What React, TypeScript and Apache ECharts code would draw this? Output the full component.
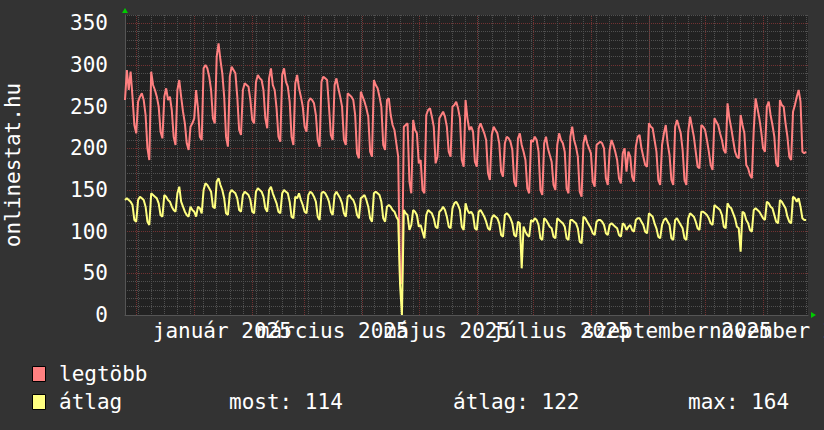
import { useEffect, useRef } from 'react';
import * as echarts from 'echarts';

// Start of the plotted period: Monday 25 Nov 2024, one value per day
const START_YEAR = 2024;
const START_MONTH = 10;
const START_DAY = 25;
const SPAN_DAYS = 365;

// "legtöbb" (daily maximum), one row per week (Mon..Sun)
const legtobb = [
  258, 294, 270, 292, 262, 228, 218,
  256, 262, 266, 258, 240, 200, 186,
  292, 276, 270, 262, 250, 220, 212,
  262, 272, 258, 262, 246, 214, 204,
  270, 282, 262, 244, 230, 206, 198,
  226, 230, 236, 270, 248, 214, 210,
  296, 300, 296, 286, 270, 236, 230,
  310, 326, 306, 290, 262, 214, 202,
  286, 298, 294, 290, 262, 222, 216,
  270, 278, 276, 274, 258, 234, 230,
  280, 288, 284, 282, 270, 236, 224,
  284, 296, 276, 270, 248, 214, 208,
  288, 296, 280, 274, 256, 214, 204,
  278, 288, 272, 262, 250, 226, 220,
  256, 260, 258, 254, 240, 210, 202,
  280, 286, 284, 282, 250, 216, 210,
  276, 284, 272, 262, 250, 210, 204,
  266, 264, 262, 258, 240, 194, 188,
  268, 262, 256, 248, 238, 196, 190,
  282, 276, 272, 262, 250, 204, 198,
  258, 260, 240, 228, 222, 206, 190,
  38, 38, 226, 228, 230, 160, 146,
  234, 222, 218, 182, 186, 150, 146,
  240, 246, 248, 238, 226, 182, 190,
  236, 240, 244, 238, 226, 196, 190,
  250, 252, 256, 248, 236, 186, 178,
  258, 236, 222, 226, 220, 184, 178,
  224, 230, 224, 218, 210, 170, 162,
  216, 226, 222, 218, 206, 172, 166,
  206, 214, 212, 208, 198, 160, 154,
  212, 218, 204, 196, 186, 152, 146,
  210, 208, 214, 210, 196, 150, 144,
  206, 214, 200, 192, 184, 156, 150,
  204, 218, 210, 206, 196, 152, 146,
  214, 226, 210, 202, 190, 148, 142,
  206, 216, 206, 200, 194, 160, 154,
  204, 206, 208, 206, 200, 164, 156,
  198, 210, 204, 196, 186, 164, 158,
  194, 200, 172, 196, 190, 166, 160,
  202, 214, 216, 200, 190, 180, 178,
  230, 226, 224, 210, 196, 162, 156,
  204, 218, 228, 206, 192, 162, 156,
  226, 234, 226, 218, 198, 162, 156,
  220, 238, 226, 214, 196, 178, 176,
  228, 226, 222, 210, 196, 180, 174,
  236, 232, 228, 218, 210, 198, 194,
  254, 236, 224, 210, 196, 190, 188,
  240, 228, 218, 180, 176, 168, 164,
  222, 260, 248, 236, 220, 200, 196,
  250, 256, 240, 228, 214, 182, 178,
  258, 252, 250, 230, 214, 190, 186,
  244, 252, 262, 270, 256, 196, 194,
  196,
];

// "átlag" (daily average), one row per week (Mon..Sun)
const atlag = [
  138, 140, 138, 136, 132, 114, 112,
  138, 142, 140, 138, 130, 112, 108,
  146, 144, 142, 140, 134, 120, 118,
  144, 142, 138, 136, 130, 126, 124,
  146, 154, 136, 130, 124, 120, 118,
  130, 126, 124, 118, 130, 128, 122,
  150, 158, 156, 152, 148, 130, 128,
  160, 164, 156, 150, 140, 122, 120,
  146, 150, 148, 146, 140, 126, 124,
  144, 148, 146, 144, 138, 124, 122,
  148, 152, 150, 148, 142, 128, 124,
  150, 154, 146, 140, 134, 124, 122,
  146, 150, 148, 146, 136, 118, 116,
  142, 140, 146, 138, 132, 124, 122,
  144, 148, 146, 142, 136, 118, 114,
  146, 148, 146, 142, 136, 124, 120,
  144, 148, 144, 140, 134, 122, 118,
  142, 144, 140, 138, 132, 120, 116,
  140, 142, 144, 138, 130, 116, 112,
  146, 148, 146, 144, 136, 116, 112,
  130, 132, 130, 126, 124, 118, 114,
  36, 0, 126, 122, 120, 102, 108,
  126, 124, 120, 106, 108, 100, 92,
  120, 126, 124, 122, 116, 106, 104,
  124, 126, 130, 126, 118, 106, 104,
  128, 134, 136, 132, 126, 106, 102,
  134, 126, 122, 124, 120, 104, 102,
  124, 126, 122, 118, 112, 104, 102,
  116, 120, 118, 116, 110, 96, 94,
  120, 122, 120, 116, 110, 96, 94,
  112, 110, 56, 106, 100, 96, 94,
  114, 112, 116, 114, 108, 92, 90,
  116, 114, 110, 106, 104, 94, 92,
  116, 114, 112, 110, 106, 92, 90,
  114, 114, 112, 110, 104, 88, 86,
  118, 116, 112, 108, 104, 98, 96,
  112, 114, 114, 112, 108, 98, 96,
  108, 110, 108, 106, 104, 96, 94,
  110, 108, 102, 106, 108, 102, 100,
  114, 116, 116, 112, 108, 100, 98,
  122, 120, 118, 110, 104, 94, 92,
  108, 114, 116, 112, 108, 92, 90,
  114, 116, 112, 108, 104, 92, 90,
  116, 122, 120, 118, 112, 104, 102,
  124, 124, 122, 120, 116, 110, 108,
  132, 130, 128, 126, 120, 106, 104,
  134, 130, 128, 122, 116, 106, 104,
  76, 124, 122, 114, 110, 102, 100,
  126, 128, 126, 124, 120, 116, 114,
  136, 134, 130, 128, 120, 112, 110,
  138, 136, 132, 128, 118, 112, 110,
  142, 140, 136, 140, 130, 116, 114,
  114,
];

// Month starts drawn as major grid lines: [year, monthIndex]
const gridMonths = [
  [2024, 11], [2025, 0], [2025, 1], [2025, 2], [2025, 3], [2025, 4],
  [2025, 5], [2025, 6], [2025, 7], [2025, 8], [2025, 9], [2025, 10],
];

// Axis labels (centred half a month after the month start)
const xLabelMonths = [[2025, 0], [2025, 2], [2025, 4], [2025, 6], [2025, 8], [2025, 10]];
const xLabelTexts = ['január 2025', 'március 2025', 'május 2025', 'július 2025', 'szeptember 2025', 'november 2025'];
const yLabelTicks = [0, 50, 100, 150, 200, 250, 300, 350];

const seriesNames = ['legtöbb', 'átlag'];
const seriesColors = ['#ff8080', '#ffff80'];
const atlagStats = ['most: 114', 'átlag: 122', 'max: 164'];
const yTitle = 'onlinestat.hu';

const FONT = "'DejaVu Sans Mono', monospace";
const FS = 21;
const MAJOR = '#723232';
const MINOR = '#505050';

export default function App() {
  const ref = useRef<HTMLDivElement>(null);

  useEffect(() => {
    if (!ref.current) return;
    const chart = echarts.init(ref.current, undefined, { renderer: 'svg' });
    const start = Date.UTC(START_YEAR, START_MONTH, START_DAY);
    const dayMs = 86400000;
    const dayOf = (y: number, m: number, d: number) => (Date.UTC(y, m, d) - start) / dayMs;

    const monthLines = gridMonths.map(([y, m]) => dayOf(y, m, 1));
    const labelPos = xLabelMonths.map(([y, m]) => dayOf(y, m, 1) + 15);
    const labelMap: Record<string, string> = {};
    labelPos.forEach((p, i) => { labelMap[String(p)] = xLabelTexts[i]; });
    const groupA = labelPos.filter((_, i) => i % 2 === 0);
    const groupB = labelPos.filter((_, i) => i % 2 === 1);

    const labelStyle = {
      color: '#ffffff',
      fontFamily: FONT,
      fontSize: FS,
      margin: 5,
      formatter: (v: number) => labelMap[String(v)] ?? '',
    };

    const legendY = [374, 402];

    chart.setOption({
      animation: false,
      backgroundColor: '#333333',
      grid: {
        left: 125, top: 15, width: 683, height: 300,
        containLabel: false, outerBoundsMode: 'none',
        show: true, backgroundColor: '#222222', borderWidth: 0,
      },
      xAxis: [
        {
          type: 'value', min: 0, max: SPAN_DAYS, interval: 7, position: 'bottom',
          axisLine: { show: true, lineStyle: { color: '#555555', width: 1 } },
          axisTick: { show: false },
          axisLabel: { show: false },
          splitLine: { show: true, showMaxLine: false, lineStyle: { color: MINOR, type: [1, 1], width: 1 } },
        },
        {
          type: 'value', min: 0, max: SPAN_DAYS, position: 'bottom',
          axisLine: { show: false },
          axisTick: {
            show: true, inside: true, length: 300, customValues: monthLines,
            lineStyle: { color: MAJOR, type: [1, 1], width: 1 },
          },
          axisLabel: { ...labelStyle, customValues: groupA },
          splitLine: { show: false },
        },
        {
          type: 'value', min: 0, max: SPAN_DAYS, position: 'bottom',
          axisLine: { show: false },
          axisTick: { show: false },
          axisLabel: { ...labelStyle, customValues: groupB },
          splitLine: { show: false },
        },
      ],
      yAxis: [
        {
          type: 'value', min: 0, max: 360, interval: 10, position: 'left',
          axisLine: { show: true, lineStyle: { color: '#555555', width: 1 } },
          axisTick: { show: false },
          axisLabel: { show: false },
          splitLine: { show: true, lineStyle: { color: MINOR, type: [1, 1], width: 1 } },
        },
        {
          type: 'value', min: 0, max: 360, interval: 50, position: 'left',
          axisLine: { show: false },
          axisTick: { show: false },
          axisLabel: {
            color: '#ffffff', fontFamily: FONT, fontSize: FS, margin: 17,
            formatter: (v: number) => (yLabelTicks.includes(v) ? String(v) : ''),
          },
          splitLine: { show: true, showMaxLine: false, lineStyle: { color: MAJOR, type: [1, 1], width: 1 } },
          name: yTitle,
          nameLocation: 'middle',
          nameRotate: 90,
          nameGap: 102,
          nameTextStyle: { color: '#ffffff', fontFamily: FONT, fontSize: FS },
        },
      ],
      series: [
        {
          name: seriesNames[0], type: 'line', xAxisIndex: 0, yAxisIndex: 0,
          data: legtobb.map((v, i) => [i, v]),
          showSymbol: false, symbol: 'none',
          lineStyle: { color: seriesColors[0], width: 2 },
          itemStyle: { color: seriesColors[0] },
          z: 3,
        },
        {
          name: seriesNames[1], type: 'line', xAxisIndex: 0, yAxisIndex: 0,
          data: atlag.map((v, i) => [i, v]),
          showSymbol: false, symbol: 'none',
          lineStyle: { color: seriesColors[1], width: 2 },
          itemStyle: { color: seriesColors[1] },
          z: 4,
        },
      ],
      graphic: [
        { type: 'polygon', shape: { points: [[122, 13], [128, 13], [125, 8]] }, style: { fill: '#00cc00' } },
        { type: 'polygon', shape: { points: [[811, 312], [811, 318], [816, 315]] }, style: { fill: '#00cc00' } },
        ...seriesNames.flatMap((n, i) => [
          {
            type: 'rect', shape: { x: 32.5, y: legendY[i] - 7.5, width: 13, height: 15 },
            style: { fill: seriesColors[i], stroke: '#000000', lineWidth: 1 },
          },
          {
            type: 'text', x: 59, y: legendY[i],
            style: { text: n, fill: '#ffffff', fontFamily: FONT, fontSize: FS, verticalAlign: 'middle' },
          },
        ]),
        ...atlagStats.map((t, i) => ({
          type: 'text', x: [229, 453, 688][i], y: legendY[1],
          style: { text: t, fill: '#ffffff', fontFamily: FONT, fontSize: FS, verticalAlign: 'middle' },
        })),
      ],
    });

    return () => chart.dispose();
  }, []);

  return (
    <div
      ref={ref}
      style={{ position: 'fixed', left: 0, top: 0, width: 824, height: 430 }}
    />
  );
}
